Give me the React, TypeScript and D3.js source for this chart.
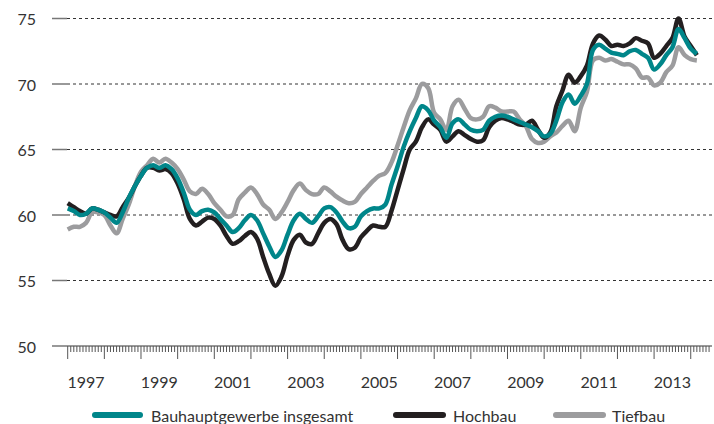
import React from 'react';
import * as d3 from 'd3';

const START_YEAR = 1997;
const STEP_MONTHS = 2;
const yTicks = [50, 55, 60, 65, 70, 75];
const yearLabels = ['1997', '1999', '2001', '2003', '2005', '2007', '2009', '2011', '2013'];
const seriesNames = ['Bauhauptgewerbe insgesamt', 'Hochbau', 'Tiefbau'];
const seriesColors = ['#00868a', '#231f20', '#9c9c9e'];

// bimonthly values, Jan 1997 onwards
const insgesamt = [
  60.5, 60.3, 60.0, 60.1, 60.5, 60.4, 60.2, 59.8, 59.4, 60.2, 61.3, 62.2,
  63.0, 63.6, 63.8, 63.6, 63.8, 63.5, 62.8, 61.7, 60.4, 60.0, 60.3, 60.4,
  60.2, 59.7, 59.2, 58.7, 59.0, 59.6, 60.0, 59.6, 58.6, 57.6, 56.8, 57.3,
  58.5, 59.6, 60.1, 59.7, 59.4, 59.9, 60.5, 60.6, 60.2, 59.5, 59.0, 59.1,
  59.9, 60.3, 60.5, 60.5, 60.8, 62.3, 63.7, 65.2, 66.4, 67.4, 68.3, 68.0,
  67.2, 66.7, 65.9, 67.0, 67.3, 66.9, 66.5, 66.4, 66.5, 67.2, 67.5, 67.6,
  67.5, 67.3, 67.1, 66.9, 66.7, 66.4, 66.0, 66.2, 67.2, 68.6, 69.2, 68.5,
  69.1, 70.0, 72.6, 73.0, 72.7, 72.4, 72.3, 72.2, 72.5, 72.6, 72.3, 72.0,
  71.1, 71.5, 72.2, 72.8, 74.2, 73.5, 72.7, 72.3,
];
const hochbau = [
  60.9, 60.6, 60.3, 60.1, 60.5, 60.4, 60.2, 60.0, 59.9, 60.6, 61.3, 62.2,
  63.0, 63.6, 63.6, 63.4, 63.5, 63.2, 62.4, 61.2, 59.7, 59.2, 59.5, 59.8,
  59.7, 59.2, 58.4, 57.8, 58.0, 58.4, 58.7, 58.2, 56.8, 55.5, 54.6, 55.3,
  56.9, 58.1, 58.5, 57.9, 57.8, 58.6, 59.4, 59.7, 59.3, 58.1, 57.4, 57.5,
  58.3, 58.8, 59.2, 59.1, 59.1, 60.3, 61.9, 63.5, 65.0, 65.6, 66.7, 67.3,
  66.9, 66.5, 65.6, 66.0, 66.4, 66.1, 65.8, 65.6, 65.7, 66.7, 67.2, 67.4,
  67.3, 67.1, 66.9, 66.9, 67.2, 66.5, 65.9, 66.3, 68.3, 69.5, 70.7, 70.1,
  70.6, 71.4, 73.1, 73.7, 73.4, 72.9, 73.0, 72.9, 73.1, 73.5, 73.3, 73.1,
  72.0, 72.3, 72.9, 73.5, 75.0, 73.6, 72.9, 72.2,
];
const tiefbau = [
  58.9, 59.1, 59.1, 59.4, 60.2, 60.2, 60.0, 59.2, 58.6, 59.7, 60.8, 62.2,
  63.3, 63.8, 64.3, 64.0, 64.3, 64.0, 63.5, 62.7, 61.8, 61.6, 62.0, 61.6,
  60.9, 60.4, 59.9, 60.0, 61.2, 61.7, 62.1, 61.6, 60.8, 60.4, 59.7, 60.2,
  61.0, 61.9, 62.4, 61.9, 61.6, 61.6, 62.1, 61.8, 61.4, 61.1, 60.9, 61.0,
  61.6, 62.1, 62.6, 63.0, 63.2, 64.0, 65.3, 66.7, 68.0, 68.9, 70.0, 69.7,
  67.8, 67.3, 66.5, 68.3, 68.8, 68.1, 67.4, 67.3, 67.5, 68.3, 68.2, 67.9,
  67.9, 67.9, 67.3, 66.8, 65.8, 65.5, 65.6, 66.0, 66.3, 66.8, 67.2, 66.4,
  68.2, 69.4, 71.8, 72.0, 71.8, 71.9, 71.7, 71.5, 71.5, 71.2, 70.5, 70.5,
  69.9, 70.1, 70.9, 71.4, 72.8, 72.2, 71.9, 71.8,
];

const W = 714;
const H = 424;
const FONT = 'Lato, "Noto Sans", sans-serif';

export default function App() {
  const x = d3.scaleLinear().domain([START_YEAR, START_YEAR + 17.58]).range([67.7, 712]);
  const y = d3.scaleLinear().domain([50, 75]).range([346, 18.5]);
  const allSeries = [insgesamt, hochbau, tiefbau];
  const line = d3
    .line<number>()
    .x((_, i) => x(START_YEAR + (i * STEP_MONTHS) / 12))
    .y((d) => y(d))
    .curve(d3.curveCatmullRom.alpha(0.5));
  const months = d3.range(0, 211);
  const drawOrder = [2, 1, 0];
  const legendX = [[95, 140, 151], [396, 443, 453], [556, 603, 612]];

  return (
    <svg
      width={W}
      height={H}
      style={{ position: 'absolute', left: 0, top: 0, background: '#fff' }}
      fontFamily={FONT}
    >
      {yTicks.map((t) => (
        <g key={t}>
          {t > 50 && (
            <line x1={67} x2={712} y1={y(t)} y2={y(t)} stroke="#333" strokeWidth={1} strokeDasharray="3,3" />
          )}
          <line
            x1={52}
            x2={t > 50 ? 67 : 712}
            y1={y(t)}
            y2={y(t)}
            stroke="#777"
            strokeWidth={1.5}
          />
          <text x={36} y={y(t)} textAnchor="end" dominantBaseline="central" fontSize={16} fill="#333">
            {t}
          </text>
        </g>
      ))}
      {months.map((m) => (
        <line
          key={m}
          x1={x(START_YEAR + m / 12)}
          x2={x(START_YEAR + m / 12)}
          y1={346}
          y2={m % 12 === 0 ? 359 : 352}
          stroke="#555"
          strokeWidth={1}
        />
      ))}
      {yearLabels.map((yl) => (
        <text
          key={yl}
          x={x(+yl + 0.5)}
          y={381}
          textAnchor="middle"
          dominantBaseline="central"
          fontSize={16}
          fill="#333"
        >
          {yl}
        </text>
      ))}
      {drawOrder.map((i) => (
        <path
          key={i}
          d={line(allSeries[i]) || ''}
          fill="none"
          stroke={seriesColors[i]}
          strokeWidth={4.5}
          strokeLinejoin="round"
        />
      ))}
      {seriesNames.map((n, i) => (
        <g key={n}>
          <line
            x1={legendX[i][0]}
            x2={legendX[i][1]}
            y1={415}
            y2={415}
            stroke={seriesColors[i]}
            strokeWidth={6}
            strokeLinecap="round"
          />
          <text x={legendX[i][2]} y={415} dominantBaseline="central" fontSize={16} fill="#333">
            {n}
          </text>
        </g>
      ))}
    </svg>
  );
}
